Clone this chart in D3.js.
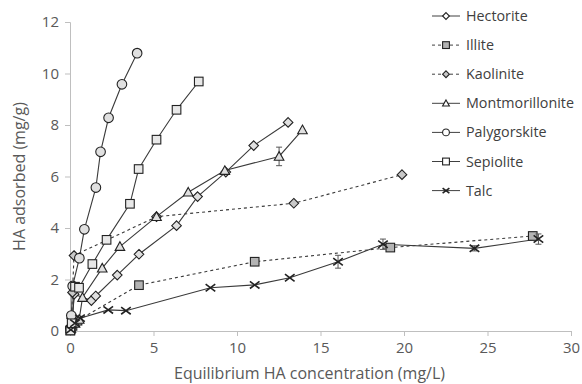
<!DOCTYPE html>
<html>
<head>
<meta charset="utf-8">
<script src="https://cdn.jsdelivr.net/npm/d3@7"></script>
<style>
  body { margin: 0; background: #fff; }
  text { font-family: "Open Sans", "Liberation Sans", sans-serif; }
</style>
</head>
<body>
<svg id="chart" width="582" height="384"></svg>
<script>
// data: [concentration mg/L, adsorbed mg/g]
var hectorite = [[0.05,0.1],[0.15,0.45],[0.25,1.43],[1.28,1.18],[1.54,1.36],[2.83,2.17],[4.13,2.98],[6.38,4.09],[7.64,5.22],[9.33,6.17],[11.0,7.2],[13.06,8.1]];
var illite = [[0.02,0.02],[0.15,0.2],[0.45,0.4],[4.13,1.78],[11.06,2.69],[19.18,3.24],[27.71,3.69]];
var kaolinite = [[0.03,0.1],[0.1,0.5],[0.15,1.5],[0.24,2.93],[5.18,4.44],[13.4,4.96],[19.88,6.07]];
var montmorillonite = [[0.05,0.1],[0.3,0.3],[0.55,0.45],[0.75,1.3],[1.93,2.44],[2.99,3.28],[5.18,4.44],[7.08,5.39],[9.27,6.23],[12.52,6.78],[13.92,7.81]];
var palygorskite = [[0.02,0.1],[0.08,0.6],[0.16,1.75],[0.56,2.83],[0.86,3.95],[1.55,5.57],[1.83,6.96],[2.31,8.28],[3.11,9.58],[4.02,10.79]];
var sepiolite = [[0.02,0.02],[0.1,0.3],[0.3,1.72],[0.54,1.68],[1.34,2.6],[2.19,3.54],[3.59,4.94],[4.11,6.29],[5.18,7.43],[6.38,8.59],[7.71,9.69]];
var talc = [[0.05,0.05],[0.3,0.3],[0.6,0.5],[2.29,0.82],[3.35,0.79],[8.41,1.68],[11.06,1.79],[13.16,2.07],[16.05,2.69],[18.74,3.37],[24.22,3.21],[28.05,3.57]];
// error bars (+/-), same order as the points
var montErr = [0,0,0,0,0,0,0,0,0,0.36,0];
var talcErr = [0,0,0,0,0,0,0,0,0.25,0.2,0.1,0.2];

var seriesNames = ["Hectorite","Illite","Kaolinite","Montmorillonite","Palygorskite","Sepiolite","Talc"];
var xTicks = [0,5,10,15,20,25,30];
var yTicks = [0,2,4,6,8,10,12];

var series = [
  {name: seriesNames[0], data: hectorite, marker: "diamond", fill: "#e0e0e0", dash: null},
  {name: seriesNames[1], data: illite, marker: "square", fill: "#b3b3b3", dash: "3,3"},
  {name: seriesNames[2], data: kaolinite, marker: "diamond", fill: "#c8c8c8", dash: "3,3"},
  {name: seriesNames[3], data: montmorillonite, marker: "triangle", fill: "#e0e0e0", dash: null, err: montErr},
  {name: seriesNames[4], data: palygorskite, marker: "circle", fill: "#e0e0e0", dash: null},
  {name: seriesNames[5], data: sepiolite, marker: "square", fill: "#e8e8e8", dash: null},
  {name: seriesNames[6], data: talc, marker: "cross", fill: "none", dash: null, err: talcErr}
];

var svg = d3.select("#chart");
var margin = {top: 22, right: 11, bottom: 53, left: 70};
var width = 582 - margin.left - margin.right,
    height = 384 - margin.top - margin.bottom;

var x = d3.scaleLinear().domain([0, 30]).range([0, width]);
var y = d3.scaleLinear().domain([0, 12]).range([height, 0]);

var g = svg.append("g").attr("transform", "translate(" + margin.left + "," + margin.top + ")");

// axes
var xa = g.append("g").attr("transform", "translate(0," + height + ")")
  .call(d3.axisBottom(x).tickValues(xTicks).tickSize(5).tickPadding(6));
var ya = g.append("g")
  .call(d3.axisLeft(y).tickValues(yTicks).tickSize(5).tickPadding(6));
[xa, ya].forEach(function(a) {
  a.select(".domain").attr("stroke", "#bfbfbf");
  a.selectAll(".tick line").attr("stroke", "#bfbfbf");
  a.selectAll(".tick text").attr("fill", "#595959").style("font-size", "15px");
});

g.append("text")
  .attr("x", width / 2 - 11).attr("y", height + 48)
  .attr("text-anchor", "middle").attr("fill", "#595959")
  .style("font-size", "16px")
  .text("Equilibrium HA concentration (mg/L)");

g.append("text")
  .attr("transform", "translate(-45," + height / 2 + ") rotate(-90)")
  .attr("text-anchor", "middle").attr("fill", "#595959")
  .style("font-size", "16px")
  .text("HA adsorbed (mg/g)");

function drawMarker(sel, type, s, fill) {
  if (type === "circle") {
    sel.append("circle").attr("r", s).attr("fill", fill).attr("stroke", "#222").attr("stroke-width", 1.1);
  } else if (type === "square") {
    sel.append("rect").attr("x", -s).attr("y", -s).attr("width", 2 * s).attr("height", 2 * s)
      .attr("fill", fill).attr("stroke", "#222").attr("stroke-width", 1.1);
  } else if (type === "diamond") {
    sel.append("path").attr("d", "M0," + (-s) + "L" + s + ",0L0," + s + "L" + (-s) + ",0Z")
      .attr("fill", fill).attr("stroke", "#222").attr("stroke-width", 1.1);
  } else if (type === "triangle") {
    sel.append("path").attr("d", "M0," + (-s) + "L" + s + "," + (s * 0.8) + "L" + (-s) + "," + (s * 0.8) + "Z")
      .attr("fill", fill).attr("stroke", "#222").attr("stroke-width", 1.1);
  } else if (type === "cross") {
    sel.append("path").attr("d", "M" + (-s) + "," + (-s * 0.75) + "L" + s + "," + (s * 0.75) + "M" + (-s) + "," + (s * 0.75) + "L" + s + "," + (-s * 0.75))
      .attr("fill", "none").attr("stroke", "#222").attr("stroke-width", 1.6);
  }
}

var line = d3.line().x(function(d) { return x(d[0]); }).y(function(d) { return y(d[1]); });

series.forEach(function(s) {
  g.append("path").datum(s.data)
    .attr("d", line)
    .attr("fill", "none")
    .attr("stroke", "#3a3a3a")
    .attr("stroke-width", 1.1)
    .attr("stroke-dasharray", s.dash);
});

series.forEach(function(s) {
  if (s.err) {
    s.data.forEach(function(d, i) {
      var e = s.err[i];
      if (!e) return;
      var eg = g.append("g").attr("stroke", "#555").attr("stroke-width", 1);
      eg.append("line").attr("x1", x(d[0])).attr("x2", x(d[0])).attr("y1", y(d[1] - e)).attr("y2", y(d[1] + e));
      eg.append("line").attr("x1", x(d[0]) - 3).attr("x2", x(d[0]) + 3).attr("y1", y(d[1] - e)).attr("y2", y(d[1] - e));
      eg.append("line").attr("x1", x(d[0]) - 3).attr("x2", x(d[0]) + 3).attr("y1", y(d[1] + e)).attr("y2", y(d[1] + e));
    });
  }
  s.data.forEach(function(d) {
    var m = g.append("g").attr("transform", "translate(" + x(d[0]) + "," + y(d[1]) + ")");
    drawMarker(m, s.marker, s.marker === "square" ? 4.3 : 4.8, s.fill);
  });
});

// legend
var legend = svg.append("g").attr("transform", "translate(432,16)");
series.forEach(function(s, i) {
  var row = legend.append("g").attr("transform", "translate(0," + (i * 29.1) + ")");
  row.append("line").attr("x1", 0).attr("x2", 28).attr("y1", 0).attr("y2", 0)
    .attr("stroke", "#404040").attr("stroke-width", 1).attr("stroke-dasharray", s.dash);
  var m = row.append("g").attr("transform", "translate(14,0)");
  drawMarker(m, s.marker, 3.4, s.marker === "square" && s.dash ? "#b3b3b3" : (s.dash ? "#c8c8c8" : "#fff"));
  row.append("text").attr("x", 34).attr("y", 5)
    .attr("fill", "#404040").style("font-size", "14.3px")
    .text(s.name);
});
</script>
</body>
</html>
